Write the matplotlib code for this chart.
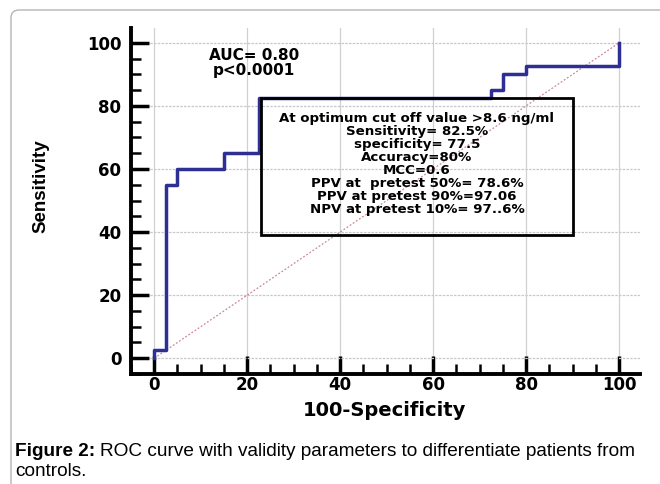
import matplotlib
matplotlib.use("Agg")
import matplotlib.pyplot as plt
from matplotlib.patches import Rectangle, PathPatch
from matplotlib.path import Path
from matplotlib.ticker import MultipleLocator

# ── Data ───────────────────────────────────────────────────────────────────────
fpr = [0, 0, 2.5, 2.5, 5, 5, 15, 15, 22.5, 22.5, 72.5, 72.5, 75, 75, 80, 80, 100, 100]
tpr = [0, 2.5, 2.5, 55, 55, 60, 60, 65, 65, 82.5, 82.5, 85, 85, 90, 90, 92.5, 92.5, 100]
ticks = [0, 20, 40, 60, 80, 100]

auc_text = "AUC= 0.80\np<0.0001"
box_lines = [
    "At optimum cut off value >8.6 ng/ml",
    "Sensitivity= 82.5%",
    "specificity= 77.5",
    "Accuracy=80%",
    "MCC=0.6",
    "PPV at  pretest 50%= 78.6%",
    "PPV at pretest 90%=97.06",
    "NPV at pretest 10%= 97..6%",
]
box_x0, box_x1, box_y0, box_y1 = 23, 90, 39, 82.5

plt.rcParams['font.family'] = ['Liberation Sans', 'DejaVu Sans']
wide = ['DejaVu Sans']

W, H = 660, 484
fig = plt.figure(figsize=(6.6, 4.84), dpi=100)

# panel border: left and top edges with a rounded corner (pixel coords)
x0, ytop, r = 11, 10, 8
verts = [(x0, H + 50), (x0, ytop + r), (x0, ytop), (x0 + r, ytop), (W + 50, ytop)]
codes = [Path.MOVETO, Path.LINETO, Path.CURVE3, Path.CURVE3, Path.LINETO]
verts = [(vx / W, 1 - vy / H) for vx, vy in verts]
fig.patches.append(PathPatch(Path(verts, codes), transform=fig.transFigure,
                             fill=False, edgecolor="#b5b5b5", linewidth=1.0))

ax = fig.add_axes([131 / W, 1 - 374 / H, (640 - 131) / W, (374 - 28) / H])

ax.plot([0, 100], [0, 100], color="#c98a94", linestyle=(0, (1.5, 1.5)), linewidth=0.9, zorder=2)
ax.plot(fpr, tpr, color="#2e2f95", linewidth=2.5, zorder=3)

ax.add_patch(Rectangle((box_x0, box_y0), box_x1 - box_x0, box_y1 - box_y0,
                       facecolor="none", edgecolor="black", linewidth=2.0, zorder=4))
ax.text((box_x0 + box_x1) / 2, box_y1 - 4.5, "\n".join(box_lines),
        ha="center", va="top", fontsize=9.6, fontweight="bold", family=wide,
        linespacing=1.0, zorder=5)

ax.text(21.5, 98.5, auc_text, ha="center", va="top", fontsize=11,
        fontweight="bold", family=wide, linespacing=1.0)

ax.set_xlim(-5, 104.5)
ax.set_ylim(-5, 104.7)
ax.set_xticks(ticks)
ax.set_yticks(ticks)
ax.xaxis.set_minor_locator(MultipleLocator(5))
ax.yaxis.set_minor_locator(MultipleLocator(5))
ax.tick_params(which="major", direction="in", length=13, width=2.5, color="black")
ax.tick_params(which="minor", direction="in", length=7, width=1.8, color="black")
ax.tick_params(axis="y", pad=7)
ax.tick_params(axis="x", pad=1.5)
for lab in ax.get_xticklabels() + ax.get_yticklabels():
    lab.set_fontweight("bold")
    lab.set_fontsize(12)
    lab.set_family(wide)
ax.xaxis.grid(True, color="#d0d0d0", linewidth=0.9)
ax.yaxis.grid(True, color="#c8c8c8", linewidth=0.9, linestyle=(0, (2, 1)))
ax.set_axisbelow(True)

for s in ["top", "right"]:
    ax.spines[s].set_visible(False)
for s in ["left", "bottom"]:
    ax.spines[s].set_linewidth(2.8)

ax.set_xlabel("100-Specificity", fontsize=14, fontweight="bold", family=wide)
ax.xaxis.set_label_coords(0.499, -0.078)
ax.set_ylabel("Sensitivity", fontsize=13.5, fontweight="bold")
ax.yaxis.set_label_coords(-0.16, 0.543)

# caption
cap_y = 1 - 452 / H
t1 = fig.text(15 / W, cap_y, "Figure 2:", fontsize=13.7, fontweight="bold", va="center")
fig.canvas.draw()
bb = t1.get_window_extent(renderer=fig.canvas.get_renderer())
fig.text(bb.x1 / fig.bbox.width + 5 / W, cap_y,
         "ROC curve with validity parameters to differentiate patients from",
         fontsize=13.7, va="center")
fig.text(15 / W, 1 - 471 / H, "controls.", fontsize=13.7, va="center")

fig.savefig("out.png", dpi=100)
